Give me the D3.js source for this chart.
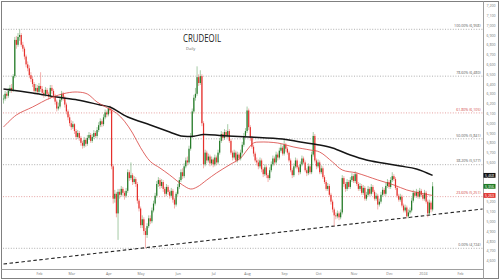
<!DOCTYPE html>
<html>
<head>
<meta charset="utf-8">
<script src="https://cdn.jsdelivr.net/npm/d3@7"></script>
<style>
body{margin:0;background:#fff;}
svg{display:block;font-family:"Open Sans",Arial,sans-serif;}
</style>
</head>
<body>
<svg id="canvas" width="500" height="280"></svg>
<script>
// daily closes, Jan 2 2023 -> Jan 10 2024 (open = previous close)
const closes=[
6250,6300,6280,6330,6360,6340,6480,6850,6800,6880,
6900,6800,6760,6680,6600,6560,6490,6450,6400,6330,
6360,6320,6380,6350,6310,6290,6340,6300,6270,6360,
6330,6280,6220,6150,6170,6240,6300,6260,6190,6120,
6060,6000,5960,5990,5920,5860,5900,5850,5800,5770,
5830,5790,5850,5880,5820,5860,5900,5870,5930,5980,
6020,5990,6060,6110,6090,6150,6130,5560,5230,5280,
5080,5300,5270,5330,5290,5260,5310,5500,5440,5470,
5400,5430,5380,5210,5130,4960,5020,4900,4860,4950,
5030,5000,5110,5180,5260,5380,5420,5360,5400,5330,
5280,5350,5300,5260,5310,5220,5170,5280,5350,5420,
5500,5460,5560,5620,5600,5740,5870,6120,6260,6300,
6470,6410,6480,6000,5580,5700,5620,5660,5590,5630,
5580,5650,5600,5700,5820,5890,5850,5910,5870,5920,
5820,5700,5650,5700,5620,5680,5640,5700,5780,5870,
5920,6130,5960,5850,5760,5690,5620,5600,5560,5620,
5530,5480,5550,5470,5440,5520,5580,5640,5600,5680,
5650,5720,5750,5690,5780,5740,5700,5620,5520,5470,
5560,5620,5550,5500,5580,5640,5600,5520,5490,5560,
5500,5680,5870,5620,5560,5600,5500,5540,5450,5400,
5330,5360,5270,5200,5120,5060,5050,5080,5040,5090,
5440,5380,5330,5400,5350,5420,5460,5410,5480,5380,
5330,5360,5290,5340,5230,5270,5330,5280,5350,5300,
5230,5260,5170,5200,5270,5320,5280,5360,5400,5350,
5420,5460,5430,5340,5260,5220,5250,5160,5110,5140,
5050,5090,5110,5210,5290,5260,5300,5250,5310,5270,
5230,5290,5200,5080,5190,5120,5356];
const highs=[
6290,6330,6320,6360,6390,6400,6500,6880,6890,6920,
6958,6920,6830,6780,6700,6630,6590,6520,6480,6420,
6400,6390,6410,6520,6380,6340,6370,6360,6320,6390,
6390,6350,6300,6240,6210,6270,6330,6320,6280,6210,
6140,6090,6030,6020,6000,5940,5930,5920,5870,5820,
5860,5850,5880,5910,5900,5890,5930,5920,5960,6010,
6050,6040,6090,6140,6130,6170,6180,6150,5580,5320,
5300,5330,5330,5360,5350,5310,5340,5530,5520,5600,
5490,5460,5450,5400,5230,5150,5060,5040,4930,4980,
5060,5060,5140,5210,5290,5410,5450,5440,5430,5420,
5350,5380,5370,5320,5340,5330,5240,5300,5380,5450,
5530,5540,5590,5650,5660,5770,5900,6150,6290,6360,
6580,6500,6540,6500,6020,5730,5720,5690,5680,5660,
5650,5680,5670,5730,5850,5920,5910,5940,5930,5990,
5940,5840,5720,5730,5720,5710,5700,5730,5810,5900,
5950,6170,6150,5980,5870,5780,5710,5650,5630,5650,
5640,5550,5580,5570,5490,5550,5610,5670,5660,5710,
5700,5750,5790,5770,5830,5800,5760,5720,5640,5540,
5590,5650,5640,5570,5610,5670,5660,5620,5540,5590,
5580,5710,5910,5890,5640,5630,5620,5570,5560,5470,
5420,5390,5380,5290,5220,5140,5090,5110,5100,5120,
5470,5460,5400,5430,5420,5450,5490,5480,5510,5500,
5400,5390,5380,5370,5360,5300,5360,5350,5380,5370,
5320,5290,5280,5230,5300,5350,5340,5390,5430,5420,
5450,5500,5480,5450,5360,5280,5280,5270,5180,5170,
5160,5120,5140,5240,5320,5310,5330,5320,5340,5330,
5290,5320,5310,5220,5220,5210,5400];
const lows=[
6200,6230,6250,6260,6310,6310,6320,6460,6760,6780,
6840,6780,6730,6650,6570,6530,6460,6420,6370,6300,
6300,6290,6300,6320,6280,6260,6270,6270,6240,6250,
6300,6250,6190,6120,6130,6150,6220,6230,6160,6090,
6030,5970,5930,5940,5890,5830,5840,5820,5770,5740,
5750,5760,5770,5830,5800,5800,5840,5850,5850,5910,
5960,5960,5970,6040,6060,6070,6100,5530,5180,5190,
5040,4810,5230,5250,5260,5220,5240,5290,5410,5420,
5370,5380,5350,5180,5100,4930,4930,4860,4724,4830,
4930,4970,4980,5090,5160,5240,5350,5330,5340,5300,
5250,5260,5270,5230,5240,5190,5130,5150,5260,5330,
5400,5430,5440,5540,5570,5580,5720,5850,6100,6230,
6280,6380,6390,5970,5540,5560,5590,5600,5560,5570,
5550,5560,5570,5580,5680,5800,5820,5830,5850,5850,
5800,5680,5620,5630,5600,5600,5620,5620,5680,5760,
5850,5900,5930,5820,5740,5660,5600,5570,5530,5540,
5500,5450,5460,5440,5400,5420,5500,5560,5570,5580,
5620,5630,5700,5670,5670,5710,5680,5600,5500,5440,
5450,5540,5530,5470,5480,5560,5580,5500,5460,5470,
5480,5480,5660,5600,5530,5540,5480,5480,5430,5380,
5310,5310,5250,5170,5090,4950,5020,5030,5010,5020,
5070,5350,5300,5310,5330,5330,5400,5390,5390,5360,
5310,5310,5270,5270,5210,5210,5250,5260,5260,5280,
5210,5210,5120,5150,5180,5250,5260,5260,5340,5330,
5330,5400,5410,5320,5240,5200,5200,5140,5090,5090,
5030,5030,5070,5090,5190,5240,5240,5230,5230,5250,
5210,5210,5180,5040,5060,5090,5100];

// moving averages: [bar index, value]
const ma50=[[0,5961],[8,6084],[18,6165],[29,6257],[39,6308],[46,6318],[52,6298],[58,6216],[64,6160],[70,6104],[75,6020],[80,5900],[85,5750],[91,5610],[97,5543],[103,5472],[111,5370],[116,5329],[120,5349],[126,5421],[132,5492],[140,5574],[147,5645],[151,5727],[155,5798],[159,5808],[170,5798],[180,5757],[190,5727],[196,5706],[204,5604],[210,5523],[219,5492],[232,5421],[242,5370],[250,5319],[258,5288],[266,5263]];
const ma200=[[0,6349],[18,6308],[33,6267],[46,6237],[60,6186],[66,6165],[77,6063],[91,5982],[103,5910],[110,5870],[118,5868],[124,5885],[136,5872],[153,5859],[173,5839],[184,5808],[196,5778],[204,5747],[215,5676],[225,5625],[235,5594],[246,5563],[256,5533],[266,5468]];
const trendLine=[[0,4564],[297,5125]];

const fibPct=["100.00%","78.60%","61.80%","50.00%","38.20%","23.60%","0.00%"];
const fibValues=[6958,6480,6105,5841,5577,5251,4724];
const fibRed=[false,false,true,false,false,true,false];

const monthLabels=["Feb","Mar","Apr","May","Jun","Jul","Aug","Sep","Oct","Nov","Dec","2024","Feb"];
const monthStarts=["2023-02-01","2023-03-01","2023-04-01","2023-05-01","2023-06-01","2023-07-01","2023-08-01","2023-09-01","2023-10-01","2023-11-01","2023-12-01","2024-01-01","2024-02-01"];

const lastLabels=[["200 MA",5468,"#111"],["Close",5356,"#1f7a24"],["50 MA",5263,"#e03530"]];

let canvas=d3.select("#canvas");

let days=d3.timeDay.range(new Date(2023,0,2),new Date(2024,2,1)).filter(d=>d.getDay()%6!=0);
let parse=d3.timeParse("%Y-%m-%d");
let monthIdx=monthStarts.map(s=>d3.bisector(d=>d).left(days,parse(s)));

let x=d3.scaleLinear().domain([0,297]).range([3.5,482.6]);
let y=d3.scaleLinear().domain([4724,6958]).range([248.3,29.3]);

canvas.append("defs").append("clipPath").attr("id","plot")
    .append("rect").attr("x",2).attr("y",2).attr("width",481.5).attr("height",267.5);

// frame
canvas.append("rect").attr("x",1.5).attr("y",1.5).attr("width",497).attr("height",277)
    .attr("fill","none").attr("stroke","#808080");
canvas.append("line").attr("x1",483.5).attr("x2",483.5).attr("y1",1.5).attr("y2",278.5).attr("stroke","#a0a0a0");
canvas.append("line").attr("x1",1.5).attr("x2",483.5).attr("y1",269.5).attr("y2",269.5).attr("stroke","#a0a0a0");

let plot=canvas.append("g").attr("clip-path","url(#plot)");

// fibonacci levels
fibValues.forEach((v,i)=>{
    plot.append("line").attr("x1",3).attr("x2",483).attr("y1",y(v)).attr("y2",y(v))
        .attr("stroke",fibRed[i]?"#e08a8a":"#9a9a9a").attr("stroke-width",0.8)
        .attr("stroke-dasharray","1,1.6");
    canvas.append("text").attr("x",480.5).attr("y",y(v)-2.2).attr("text-anchor","end")
        .attr("font-size",3.6).attr("fill",fibRed[i]?"#d04040":"#555")
        .text(fibPct[i]+" ("+d3.format(",")(v)+")");
});

// support trendline
plot.append("path").datum(trendLine)
    .attr("d",d3.line().x(d=>x(d[0])).y(d=>y(d[1])))
    .attr("fill","none").attr("stroke","#222").attr("stroke-width",1.1).attr("stroke-dasharray","3.5,2.5");

// candles
let bars=closes.map((c,i)=>({i:i,o:i?closes[i-1]:c,c:c,h:highs[i],l:lows[i]}));
let candle=plot.selectAll("g.candle").data(bars).enter().append("g").attr("class","candle");
candle.append("line")
    .attr("x1",d=>x(d.i)).attr("x2",d=>x(d.i))
    .attr("y1",d=>y(d.h)).attr("y2",d=>y(d.l))
    .attr("stroke",d=>d.c>=d.o?"#6aa86a":"#ee7a76").attr("stroke-width",0.6);
candle.append("rect")
    .attr("x",d=>x(d.i)-0.6).attr("width",1.2)
    .attr("y",d=>y(Math.max(d.o,d.c)))
    .attr("height",d=>Math.max(0.6,Math.abs(y(d.o)-y(d.c))))
    .attr("fill",d=>d.c>=d.o?"#237a27":"#e5302c");

// moving averages
let maLine=d3.line().x(d=>x(d[0])).y(d=>y(d[1])).curve(d3.curveCatmullRom);
plot.append("path").datum(ma200).attr("d",maLine)
    .attr("fill","none").attr("stroke","#151515").attr("stroke-width",1.5);
plot.append("path").datum(ma50).attr("d",maLine)
    .attr("fill","none").attr("stroke","#d8403c").attr("stroke-width",0.8);

// axes (price labels hidden where a value tag covers them)
let yTicks=d3.range(4600,7201,100).filter(v=>lastLabels.every(t=>Math.abs(y(v)-y(t[1]))>4.6));
let yAxis=canvas.append("g").attr("transform","translate(483.5,0)")
    .call(d3.axisRight(y).tickValues(yTicks).tickFormat(d3.format(",")).tickSize(0).tickPadding(3));
let xAxis=canvas.append("g").attr("transform","translate(0,269.5)")
    .call(d3.axisBottom(x).tickValues(monthIdx).tickFormat((d,i)=>monthLabels[i]).tickSize(0).tickPadding(2.5));
[yAxis,xAxis].forEach(a=>{
    a.select(".domain").remove();
    a.selectAll("text").attr("font-size",3.6).attr("fill","#777").attr("font-family","'Open Sans',Arial,sans-serif");
});

// last value tags
lastLabels.forEach(t=>{
    canvas.append("rect").attr("x",483.5).attr("y",y(t[1])-2.4).attr("width",12).attr("height",4.8).attr("fill",t[2]);
    canvas.append("text").attr("x",489.5).attr("y",y(t[1])+1.3).attr("text-anchor","middle")
        .attr("font-size",3.6).attr("fill","#fff").text(d3.format(",")(t[1]));
});

// title
canvas.append("text").attr("x",183).attr("y",41.8).attr("font-size",10).attr("fill","#222")
    .attr("textLength",38).attr("lengthAdjust","spacingAndGlyphs").text("CRUDEOIL");
canvas.append("text").attr("x",186).attr("y",50).attr("font-size",4).attr("fill","#666").text("Daily");
</script>
</body>
</html>
